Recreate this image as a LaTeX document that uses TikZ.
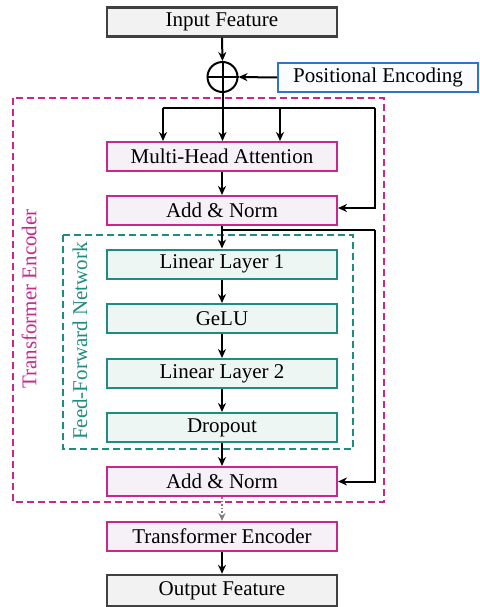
\documentclass[tikz,border=0pt]{standalone}
\usepackage{fontspec}
\setmainfont{Liberation Serif}
\usetikzlibrary{arrows.meta}
\definecolor{pinkc}{RGB}{200,40,140}
\definecolor{pinkf}{RGB}{246,240,247}
\definecolor{tealc}{RGB}{30,140,128}
\definecolor{tealf}{RGB}{238,246,244}
\definecolor{grayc}{RGB}{64,64,64}
\definecolor{grayf}{RGB}{242,242,242}
\definecolor{bluec}{RGB}{46,117,200}
\definecolor{bluef}{RGB}{250,252,255}
\tikzset{
  blk/.style={minimum width=230pt, minimum height=29pt, inner sep=0pt, line width=2pt, font=\fontsize{21}{24}\selectfont},
  pinkbox/.style={blk, draw=pinkc, fill=pinkf},
  tealbox/.style={blk, draw=tealc, fill=tealf},
  graybox/.style={blk, draw=grayc, fill=grayf, line width=2.4pt},
  conn/.style={line width=2pt, -{Stealth[length=9pt,width=8pt]}},
  wire/.style={line width=2pt}
}
\begin{document}
\begin{tikzpicture}[x=1pt,y=-1pt]
\useasboundingbox (0,0) rectangle (479,607);
% containers
\draw[pinkc, line width=1.8pt, dash pattern=on 7pt off 4pt] (13,98) rectangle (384,502);
\draw[tealc, line width=1.8pt, dash pattern=on 7pt off 4pt] (63,235) rectangle (353,449);
\node[pinkc, rotate=90, font=\fontsize{21}{24}\selectfont] (tel) at (29,299) {Transformer Encoder};
\node[tealc, rotate=90, font=\fontsize{21}{24}\selectfont] (ffl) at (80,341) {Feed-Forward Network};
% nodes
\node[graybox] (in) at (222,22) {Input Feature};
\node[draw, circle, line width=2pt, minimum size=30pt, inner sep=0pt] (plus) at (222.5,77) {};
\draw[line width=2pt] (plus.north) -- (plus.south) (plus.west) -- (plus.east);
\node[blk, draw=bluec, fill=bluef, minimum width=200pt] (pe) at (378,77.5) {Positional Encoding};
\node[pinkbox] (mha) at (222,156.5) {Multi-Head Attention};
\node[pinkbox] (an1) at (222,210.5) {Add \& Norm};
\node[tealbox] (l1) at (222,264) {Linear Layer 1};
\node[tealbox] (ge) at (222,318.5) {GeLU};
\node[tealbox] (l2) at (222,373.5) {Linear Layer 2};
\node[tealbox] (dr) at (222,427.5) {Dropout};
\node[pinkbox] (an2) at (222,481.5) {Add \& Norm};
\node[pinkbox] (te) at (222,536.5) {Transformer Encoder};
\node[graybox, minimum height=31pt] (out) at (222,590.5) {Output Feature};
% coordinates
\coordinate (sp) at (222.5,108);
\coordinate (sl) at (163,108);
\coordinate (sr) at (280,108);
\coordinate (rr) at (375,108);
\coordinate (s2) at (222.5,230);
\coordinate (r2) at (375,230);
% connectors
\draw[conn] (in.south) -- (plus.north);
\draw[conn] (pe.west) -- (plus.east);
\draw[wire] (plus.south) -- (sp);
\draw[wire] (sl) -- (rr);
\draw[conn] (sl) -- (sl |- mha.north);
\draw[conn] (sp) -- (sp |- mha.north);
\draw[conn] (sr) -- (sr |- mha.north);
\draw[conn] (rr) -- (375,208) -- (an1.east |- 0,208);
\draw[conn] (mha) -- (an1);
\draw[wire] (s2) -- (r2);
\draw[conn] (r2) -- (r2 |- an2.east) -- (an2.east);
\draw[conn] (an1) -- (l1);
\draw[conn] (l1) -- (ge);
\draw[conn] (ge) -- (l2);
\draw[conn] (l2) -- (dr);
\draw[conn] (dr) -- (an2);
\draw[gray, line width=1.5pt, dotted, -{Stealth[length=8pt,width=7pt]}] (an2) -- (te);
\draw[conn] (te) -- (out);
\end{tikzpicture}
\end{document}
